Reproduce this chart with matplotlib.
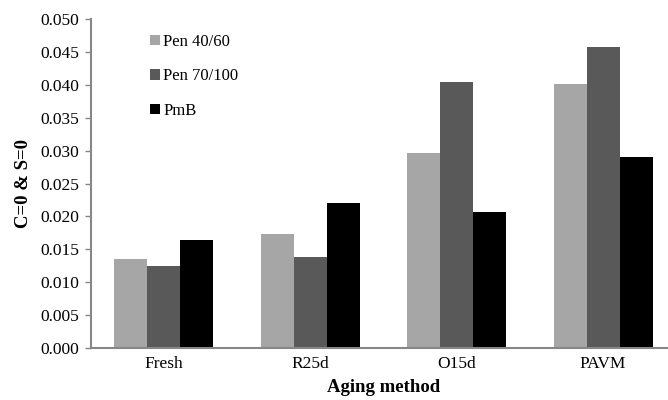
import numpy as np
import matplotlib
matplotlib.use('Agg')
import matplotlib.pyplot as plt

# Datos
categories = ['Fresh', 'R25d', 'O15d', 'PAVM']
series_names = ['Pen 40/60', 'Pen 70/100', 'PmB']
pen_40_60 = [0.0135, 0.0174, 0.0296, 0.0401]
pen_70_100 = [0.0124, 0.0139, 0.0405, 0.0457]
pmb = [0.0164, 0.0220, 0.0207, 0.0290]
colors = ['#a6a6a6', '#595959', '#000000']

plt.rcParams['font.family'] = ['Liberation Serif', 'DejaVu Serif']

fig = plt.figure(figsize=(6.68, 4.0), dpi=100)
ax = fig.add_axes([0.1355, 0.13, 0.877, 0.8225])

x = np.arange(len(categories))
width = 0.225
for i, (vals, name) in enumerate(zip([pen_40_60, pen_70_100, pmb], series_names)):
    ax.bar(x + (i - 1) * width, vals, width, color=colors[i], label=name)

ax.set_xlim(-0.5, 3.5)
ax.set_ylim(0, 0.050)
ax.set_yticks(np.arange(0, 0.0501, 0.005))
ax.yaxis.set_major_formatter(plt.FormatStrFormatter('%.3f'))
ax.set_xticks(x)
ax.set_xticklabels(categories)

for s in ['top', 'right']:
    ax.spines[s].set_visible(False)
for s in ['left', 'bottom']:
    ax.spines[s].set_color('#878787')
    ax.spines[s].set_linewidth(1.5)

ax.tick_params(axis='y', direction='out', length=4, width=1, color='#878787',
               labelsize=12.5, pad=4.3)
ax.tick_params(axis='x', length=0, labelsize=12.5, pad=6)

ax.set_xlabel('Aging method', fontsize=13.5, fontweight='bold', labelpad=4.5)
ax.set_ylabel('C=0 & S=0', fontsize=13.5, fontweight='bold', labelpad=6)

ax.legend(loc='upper left', bbox_to_anchor=(0.073, 1.005), frameon=False,
          fontsize=12, handlelength=0.6, handleheight=0.6, handletextpad=0.2,
          labelspacing=1.1, borderaxespad=0.6)

plt.savefig('out.png', dpi=100)
